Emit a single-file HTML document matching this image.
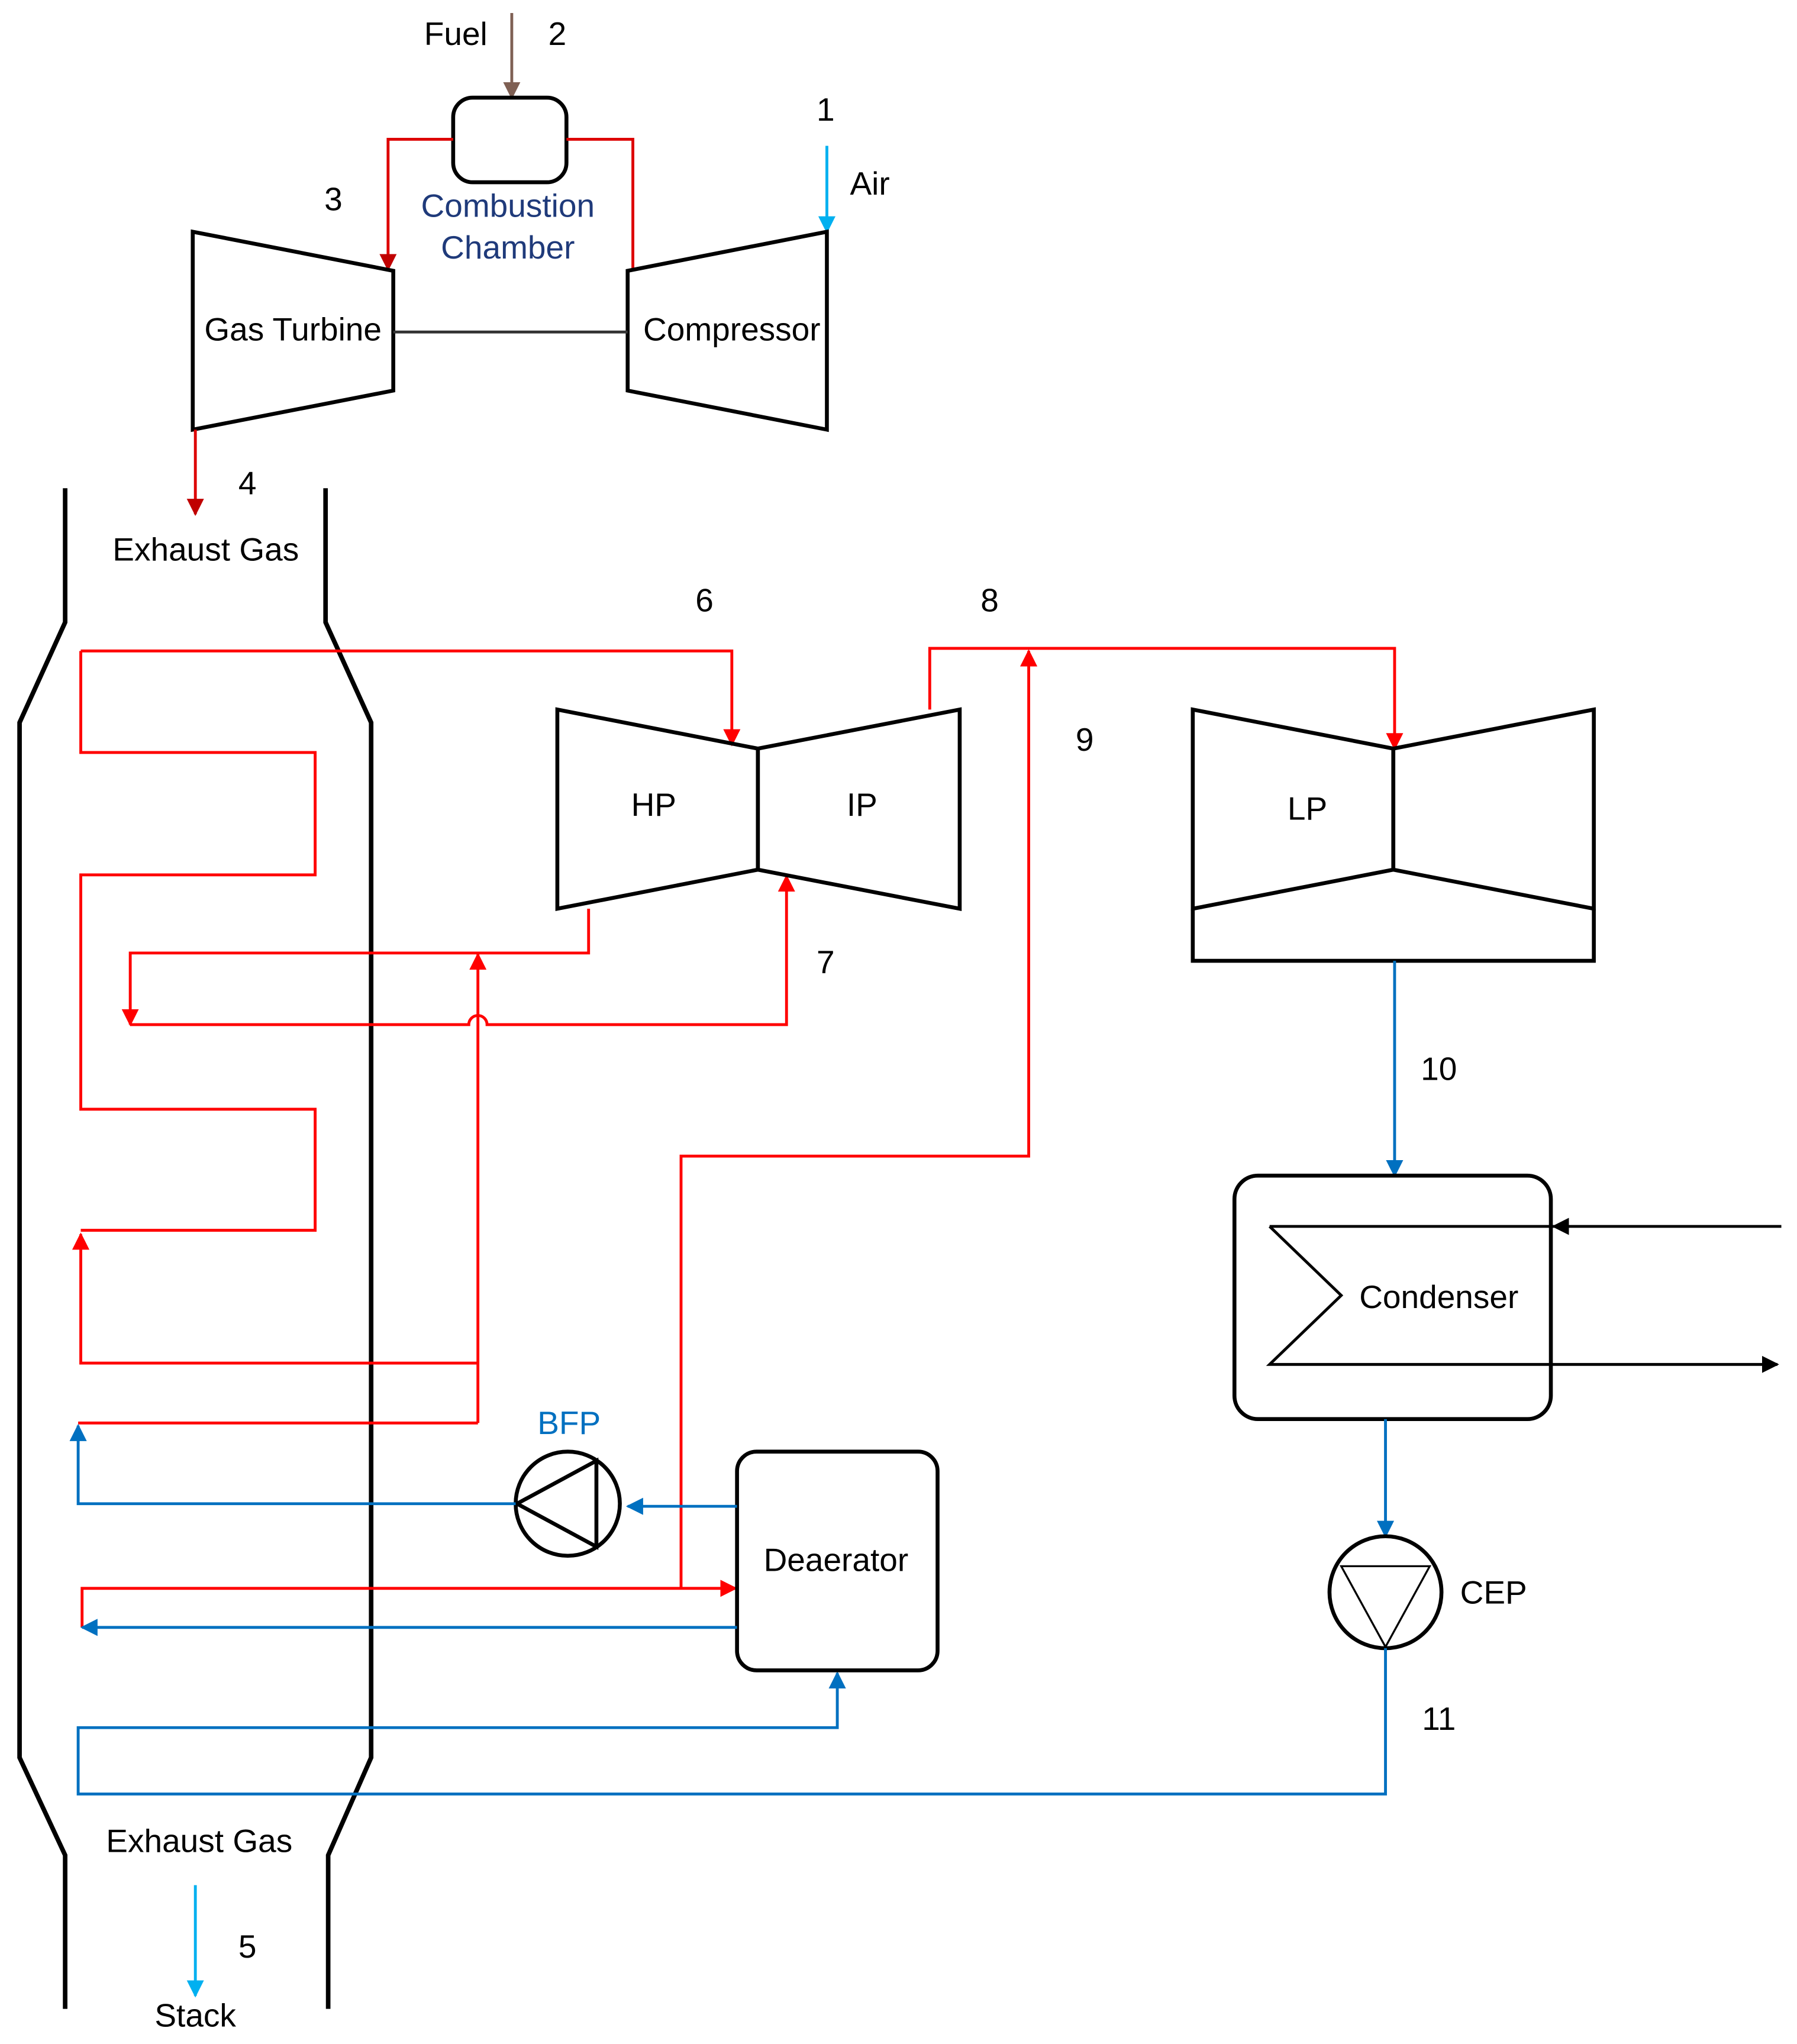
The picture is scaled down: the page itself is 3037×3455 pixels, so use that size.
<!DOCTYPE html>
<html><head><meta charset="utf-8"><style>
html,body{margin:0;padding:0;background:#fff;}
svg{display:block;}
text{font-family:"Liberation Sans",sans-serif;font-size:25px;fill:#000;text-anchor:middle;dominant-baseline:middle;}
</style></head><body>
<svg width="3037" height="3455" viewBox="0 0 1380 1570">
<defs>
<marker id="ar" viewBox="0 0 10 10" refX="9" refY="5" markerWidth="6" markerHeight="6" orient="auto"><path d="M0,0L10,5L0,10z" fill="#f00"/></marker>
<marker id="ab" viewBox="0 0 10 10" refX="9" refY="5" markerWidth="6" markerHeight="6" orient="auto"><path d="M0,0L10,5L0,10z" fill="#0070c0"/></marker>
<marker id="al" viewBox="0 0 10 10" refX="9" refY="5" markerWidth="6" markerHeight="6" orient="auto"><path d="M0,0L10,5L0,10z" fill="#00b0f0"/></marker>
<marker id="ak" viewBox="0 0 10 10" refX="9" refY="5" markerWidth="6" markerHeight="6" orient="auto"><path d="M0,0L10,5L0,10z" fill="#000"/></marker>
<marker id="abr" viewBox="0 0 10 10" refX="9" refY="5" markerWidth="6" markerHeight="6" orient="auto"><path d="M0,0L10,5L0,10z" fill="#7f6054"/></marker>
<marker id="adr" viewBox="0 0 10 10" refX="9" refY="5" markerWidth="6" markerHeight="6" orient="auto"><path d="M0,0L10,5L0,10z" fill="#c00000"/></marker>
</defs>
<g fill="none" stroke-width="2.2">
<!-- gas turbine section -->
<line x1="393" y1="10" x2="393" y2="75" stroke="#7f6054" marker-end="url(#abr)"/>
<rect x="348" y="75" width="87" height="65" rx="15" stroke="#000" stroke-width="3"/>
<polyline points="348,107 298,107 298,207" stroke="#d00" marker-end="url(#adr)"/>
<polyline points="435,107 486,107 486,208" stroke="#d00"/>
<line x1="635" y1="112" x2="635" y2="178" stroke="#00b0f0" marker-end="url(#al)"/>
<polygon points="148,178 302,208 302,300 148,330" stroke="#000" stroke-width="3"/>
<polygon points="482,208 635,178 635,330 482,300" stroke="#000" stroke-width="3"/>
<line x1="302" y1="255" x2="482" y2="255" stroke="#333"/>
<line x1="150" y1="330" x2="150" y2="395" stroke="#d00" marker-end="url(#adr)"/>
<!-- stack -->
<polyline points="50,375 50,478 15,555 15,1350 50,1425 50,1543" stroke="#000" stroke-width="3.5"/>
<polyline points="250,375 250,478 285,555 285,1350 252,1425 252,1543" stroke="#000" stroke-width="3.5"/>
<line x1="150" y1="1448" x2="150" y2="1533" stroke="#00b0f0" marker-end="url(#al)"/>
<!-- red coil -->
<polyline points="62,500 562,500 562,572" stroke="#f00" marker-end="url(#ar)"/>
<polyline points="62,500 62,578 242,578 242,672 62,672 62,852 242,852 242,945 62,945" stroke="#f00"/>
<polyline points="367,1047 62,1047 62,948" stroke="#f00" marker-end="url(#ar)"/>
<line x1="367" y1="1093" x2="367" y2="733" stroke="#f00" marker-end="url(#ar)"/>
<polyline points="367,1093 60,1093" stroke="#f00"/>
<polyline points="452,698 452,732 100,732 100,787" stroke="#f00" marker-end="url(#ar)"/>
<path d="M100,787 L360,787 A7,7 0 0 1 374,787 L604,787 L604,673" stroke="#f00" marker-end="url(#ar)"/>
<polyline points="714,545 714,498 1071,498 1071,575" stroke="#f00" marker-end="url(#ar)"/>
<polyline points="523,1220 523,888 790,888 790,500" stroke="#f00" marker-end="url(#ar)"/>
<polyline points="63,1250 63,1220 565,1220" stroke="#f00" marker-end="url(#ar)"/>
<!-- HP IP -->
<polygon points="428,545 582,575 582,668 428,698" stroke="#000" stroke-width="3"/>
<polygon points="582,575 737,545 737,698 582,668" stroke="#000" stroke-width="3"/>
<!-- LP -->
<polygon points="916,545 1070,575 1070,668 916,698" stroke="#000" stroke-width="3"/>
<polygon points="1070,575 1224,545 1224,698 1070,668" stroke="#000" stroke-width="3"/>
<polyline points="916,698 916,738 1224,738 1224,698" stroke="#000" stroke-width="3"/>
<line x1="1071" y1="738" x2="1071" y2="903" stroke="#0070c0" marker-end="url(#ab)"/>
<!-- condenser -->
<rect x="948" y="903" width="243" height="187" rx="18" stroke="#000" stroke-width="3"/>
<line x1="1368" y1="942" x2="1193" y2="942" stroke="#000" marker-end="url(#ak)"/>
<line x1="1193" y1="942" x2="975" y2="942" stroke="#000"/>
<polyline points="975,942 1030,995 975,1048 1365,1048" stroke="#000" marker-end="url(#ak)"/>
<line x1="1064" y1="1090" x2="1064" y2="1180" stroke="#0070c0" marker-end="url(#ab)"/>
<circle cx="1064" cy="1223" r="43" stroke="#000" stroke-width="3"/>
<polygon points="1030,1203 1098,1203 1064,1265" stroke="#000" stroke-width="1.5"/>
<polyline points="1064,1266 1064,1378 60,1378 60,1327 643,1327 643,1285" stroke="#0070c0" marker-end="url(#ab)"/>
<!-- deaerator -->
<rect x="566" y="1115" width="154" height="168" rx="15" stroke="#000" stroke-width="3"/>
<line x1="566" y1="1157" x2="482" y2="1157" stroke="#0070c0" marker-end="url(#ab)"/>
<line x1="566" y1="1250" x2="63" y2="1250" stroke="#0070c0" marker-end="url(#ab)"/>
<circle cx="436" cy="1155" r="40" stroke="#000" stroke-width="3"/>
<polygon points="397,1155 458,1122 458,1188" stroke="#000" stroke-width="3"/>
<polyline points="396,1155 60,1155 60,1095" stroke="#0070c0" marker-end="url(#ab)"/>
</g>
<text x="350" y="28">Fuel</text><text x="428" y="28">2</text>
<text x="634" y="86">1</text><text x="668" y="143">Air</text>
<text x="256" y="155">3</text>
<text x="390" y="160" style="fill:#1f3a7a">Combustion</text>
<text x="390" y="192" style="fill:#1f3a7a">Chamber</text>
<text x="225" y="255">Gas Turbine</text>
<text x="562" y="255">Compressor</text>
<text x="190" y="373">4</text>
<text x="158" y="424">Exhaust Gas</text>
<text x="541" y="463">6</text><text x="760" y="463">8</text><text x="833" y="570">9</text>
<text x="502" y="620">HP</text><text x="662" y="620">IP</text><text x="1004" y="623">LP</text>
<text x="634" y="741">7</text><text x="1105" y="823">10</text>
<text x="1105" y="998">Condenser</text>
<text x="437" y="1095" style="fill:#0070c0">BFP</text>
<text x="642" y="1200">Deaerator</text>
<text x="1147" y="1225">CEP</text>
<text x="1105" y="1322">11</text>
<text x="153" y="1416">Exhaust Gas</text>
<text x="190" y="1497">5</text>
<text x="150" y="1550">Stack</text>
</svg>
</body></html>
